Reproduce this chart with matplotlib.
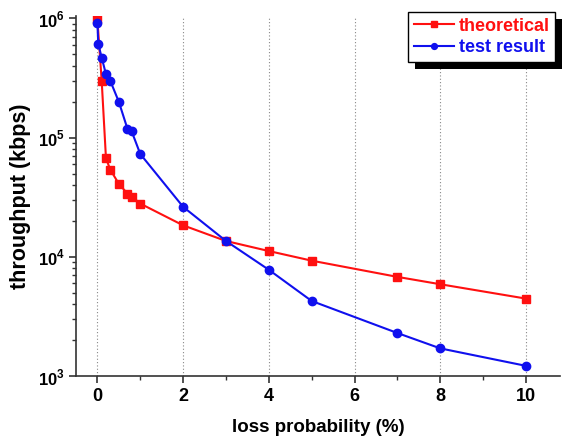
import matplotlib
matplotlib.use("Agg")
import matplotlib.pyplot as plt
import matplotlib.patheffects as pe
from matplotlib.ticker import FixedLocator, LogLocator, NullFormatter

plt.rcParams['font.family'] = ['Liberation Sans', 'DejaVu Sans']
plt.rcParams['font.weight'] = 'bold'
plt.rcParams['mathtext.fontset'] = 'custom'
plt.rcParams['mathtext.rm'] = 'Liberation Sans:bold'
plt.rcParams['mathtext.bf'] = 'Liberation Sans:bold'

theo_x = [0, 0.1, 0.2, 0.3, 0.5, 0.7, 0.8, 1, 2, 3, 4, 5, 7, 8, 10]
theo_y = [9.8e5, 3.0e5, 6.7e4, 5.4e4, 4.1e4, 3.4e4, 3.2e4, 2.8e4, 1.84e4,
          1.36e4, 1.12e4, 9.3e3, 6.8e3, 5.9e3, 4.47e3]
test_x = [0, 0.02, 0.1, 0.2, 0.3, 0.5, 0.7, 0.8, 1, 2, 3, 4, 5, 7, 8, 10]
test_y = [9.2e5, 6.1e5, 4.7e5, 3.4e5, 3.0e5, 2.0e5, 1.19e5, 1.13e5, 7.3e4,
          2.63e4, 1.36e4, 7.8e3, 4.27e3, 2.3e3, 1.71e3, 1.22e3]
x_ticks = [0, 2, 4, 6, 8, 10]
y_ticks = [1e3, 1e4, 1e5, 1e6]
y_ticklabels = [r'$10^{3}$', r'$10^{4}$', r'$10^{5}$', r'$10^{6}$']

fig = plt.figure(figsize=(5.67, 4.42), dpi=100)
ax = fig.add_axes([0.134, 0.149, 0.854, 0.815])

ax.plot(theo_x, theo_y, color='#ff1010', lw=1.5, marker='s', ms=5.5,
        label='theoretical', zorder=3)
ax.plot(test_x, test_y, color='#1010ee', lw=1.5, marker='o', ms=6,
        label='test result', zorder=3)

ax.set_yscale('log')
ax.set_ylim(1e3, 1.05e6)
ax.set_xlim(-0.5, 10.8)
ax.set_xticks(x_ticks)
ax.xaxis.set_minor_locator(FixedLocator([1, 3, 5, 7, 9]))
ax.set_yticks(y_ticks)
ax.set_yticklabels(y_ticklabels)
ax.yaxis.set_minor_locator(LogLocator(base=10, subs=range(2, 10)))
ax.yaxis.set_minor_formatter(NullFormatter())

for x in x_ticks:
    ax.axvline(x, color='#888888', ls=(0, (1, 2)), lw=0.8, zorder=1)

for s in ['top', 'right']:
    ax.spines[s].set_visible(False)
for s in ['left', 'bottom']:
    ax.spines[s].set_linewidth(1.2)
    ax.spines[s].set_color('#333333')

ax.tick_params(axis='both', which='major', direction='out', length=5, width=1.2,
               labelsize=13, colors='#333333', labelcolor='black')
ax.tick_params(axis='both', which='minor', direction='out', length=3, width=1,
               colors='#333333')
ax.tick_params(axis='y', labelsize=12, pad=3)
for lab in ax.get_xticklabels():
    lab.set_fontweight('bold')

ax.set_xlabel('loss probability (%)', fontsize=13.5, fontweight='bold', labelpad=10)
ax.set_ylabel('throughput (kbps)', fontsize=15.5, fontweight='bold', labelpad=5)

leg = ax.legend(loc='upper right', bbox_to_anchor=(0.99, 1.01), fontsize=13,
                frameon=True, fancybox=False, edgecolor='black', framealpha=1,
                facecolor='white', markerscale=0.7,
                handlelength=2.2, handletextpad=0.3, borderpad=0.3,
                labelspacing=0.25, borderaxespad=0.0)
leg.get_frame().set_linewidth(1.0)
leg.legendPatch.set_path_effects([
    pe.SimplePatchShadow(offset=(5, -5), shadow_rgbFace='black', alpha=1.0),
    pe.Normal()])
for text, c in zip(leg.get_texts(), ['#ff1010', '#1010ee']):
    text.set_color(c)
    text.set_fontweight('bold')

fig.savefig('out.png', dpi=100)
